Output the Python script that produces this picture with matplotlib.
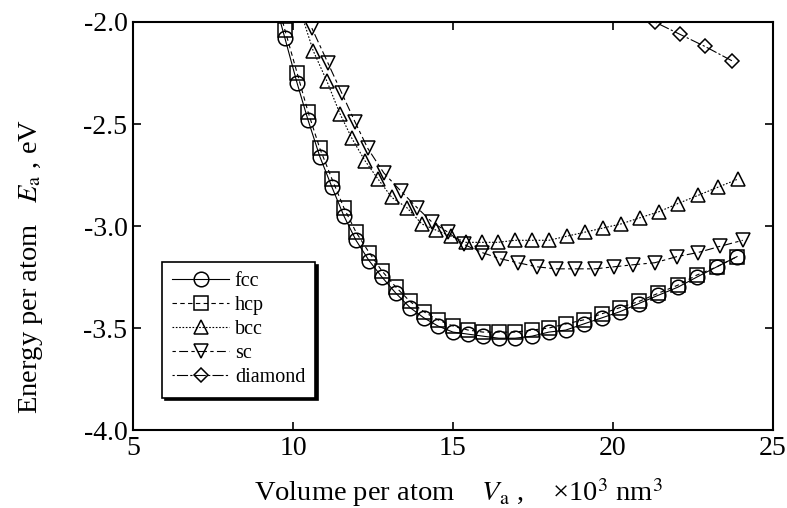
import matplotlib
matplotlib.use("Agg")
import matplotlib.pyplot as plt

plt.rcParams['font.family'] = ['Liberation Serif', 'DejaVu Serif']
plt.rcParams['mathtext.fontset'] = 'stix'

# volume per atom (x10^3 nm^3) and energy per atom (eV)
fcc_v = [9.40, 9.75, 10.13, 10.47, 10.84, 11.22, 11.59, 11.97, 12.38, 12.78, 13.22,
         13.66, 14.09, 14.53, 15.00, 15.47, 15.94, 16.44, 16.94, 17.47, 18.00,
         18.53, 19.09, 19.66, 20.22, 20.81, 21.41, 22.03, 22.63, 23.25, 23.88]
fcc_e = [-1.88, -2.08, -2.30, -2.48, -2.66, -2.81, -2.95, -3.07, -3.17, -3.25, -3.33,
         -3.40, -3.45, -3.49, -3.52, -3.53, -3.54, -3.55, -3.55, -3.54, -3.52,
         -3.51, -3.48, -3.45, -3.42, -3.38, -3.34, -3.30, -3.25, -3.20, -3.15]

hcp_v = fcc_v
hcp_e = [-1.84, -2.04, -2.25, -2.44, -2.62, -2.77, -2.91, -3.03, -3.13, -3.22, -3.30,
         -3.37, -3.42, -3.46, -3.49, -3.51, -3.52, -3.52, -3.52, -3.51, -3.50,
         -3.48, -3.46, -3.43, -3.40, -3.37, -3.33, -3.29, -3.24, -3.20, -3.15]

bcc_v = [10.20, 10.63, 11.06, 11.47, 11.84, 12.25, 12.66, 13.09, 13.56, 14.03, 14.47,
         14.94, 15.41, 15.91, 16.41, 16.94, 17.47, 18.00, 18.56, 19.13, 19.69,
         20.25, 20.84, 21.44, 22.03, 22.66, 23.28, 23.91]
bcc_e = [-1.93, -2.14, -2.29, -2.45, -2.57, -2.68, -2.77, -2.86, -2.91, -2.99, -3.02,
         -3.05, -3.08, -3.08, -3.08, -3.07, -3.07, -3.07, -3.05, -3.03, -3.01,
         -2.99, -2.96, -2.93, -2.89, -2.85, -2.81, -2.77]

sc_v = [10.59, 11.09, 11.53, 11.94, 12.34, 12.84, 13.38, 13.88, 14.34, 14.84, 15.34,
        15.91, 16.47, 17.03, 17.63, 18.22, 18.81, 19.44, 20.03, 20.63, 21.31,
        22.00, 22.66, 23.34, 24.06]
sc_e = [-2.03, -2.20, -2.35, -2.49, -2.62, -2.74, -2.83, -2.91, -2.98, -3.03, -3.09,
        -3.13, -3.16, -3.18, -3.20, -3.21, -3.21, -3.21, -3.20, -3.19, -3.18,
        -3.15, -3.13, -3.10, -3.07]

dia_v = [21.31, 22.09, 22.88, 23.72]
dia_e = [-2.00, -2.06, -2.12, -2.19]

series = [
    ("fcc", fcc_v, fcc_e, "o", "-", 10.5),
    ("hcp", hcp_v, hcp_e, "s", (0, (4, 3)), 10),
    ("bcc", bcc_v, bcc_e, "^", (0, (1.5, 1.5)), 10.5),
    ("sc", sc_v, sc_e, "v", (0, (3, 3, 8, 3)), 10.5),
    ("diamond", dia_v, dia_e, "D", (0, (2, 2, 10, 2)), 7.5),
]

fig = plt.figure(figsize=(7.87, 5.08), dpi=100)
ax = fig.add_axes([0.169, 0.1535, 0.813, 0.8032])

for name, v, e, mk, ls, ms in series:
    ax.plot(v, e, linestyle=ls, color="black", lw=0.8, marker=mk, ms=ms,
            mfc="none", mec="black", mew=1.1, label=name)

ax.set_xlim(5, 25)
ax.set_ylim(-4.0, -2.0)
ax.set_xticks([5, 10, 15, 20, 25])
ax.set_yticks([-4.0, -3.5, -3.0, -2.5, -2.0])
ax.set_yticklabels(["-4.0", "-3.5", "-3.0", "-2.5", "-2.0"])
ax.tick_params(direction="in", top=True, right=True, length=6, width=1.2,
               labelsize=20, pad=4)
for sp in ax.spines.values():
    sp.set_linewidth(1.5)

ax.set_xlabel(r"Volume per atom    $V_{\rm a}$ ,    ×10$^3$ nm$^3$", fontsize=20.5)
ax.set_ylabel(r"Energy per atom   $E_{\rm a}$ , eV", fontsize=20.5)
ax.xaxis.set_label_coords(0.508, -0.112)
ax.yaxis.set_label_coords(-0.137, 0.40)

leg = ax.legend(loc="lower left", bbox_to_anchor=(0.03, 0.055), fontsize=14.5,
                frameon=True, fancybox=False, edgecolor="black", handlelength=2.8,
                borderpad=0.5, labelspacing=0.25, handletextpad=0.3,
                shadow={"color": "black", "alpha": 1.0})
leg.get_frame().set_linewidth(1.2)

fig.savefig("out.png", dpi=100)
